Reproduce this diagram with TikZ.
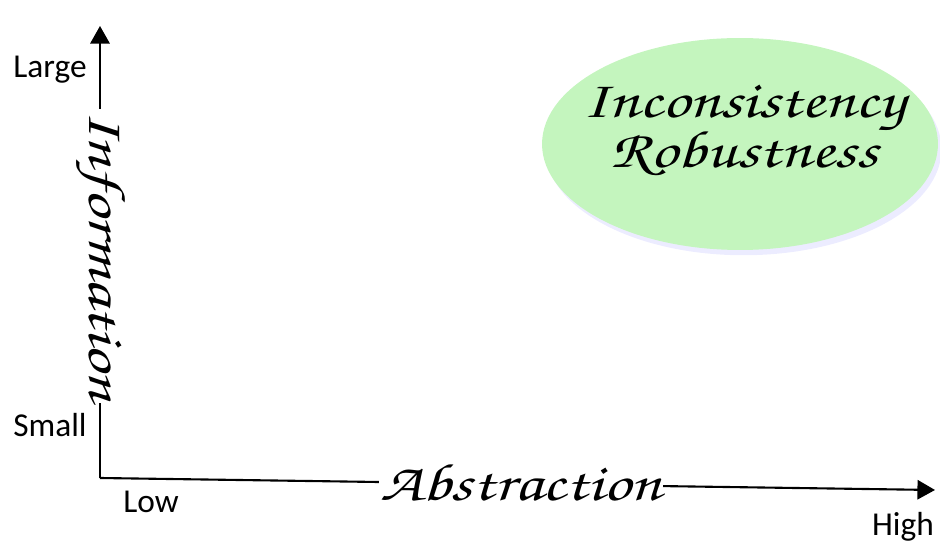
\documentclass[tikz,border=0pt]{standalone}
\usepackage[T1]{fontenc}
\usepackage{fontspec}
\newfontfamily\labelfont{Carlito}
\newcommand\handfont{\fontencoding{T1}\fontfamily{pzc}\fontseries{mb}\fontshape{it}\selectfont}
\newcommand\widehand[1]{\scalebox{1.28}[1]{#1}}
\usetikzlibrary{arrows.meta,shadows,shapes.geometric}
\definecolor{bubblegreen}{RGB}{196,245,190}

\begin{document}
\begin{tikzpicture}[x=0.02cm,y=-0.02cm,>={Triangle[length=10pt,width=11pt]},line width=1.2pt,
    tick/.style={font=\labelfont\fontsize{19}{21}\selectfont},
    axisname/.style={font=\handfont\fontsize{30}{34}\selectfont,fill=white,inner sep=1pt}]
  \useasboundingbox (0,0) rectangle (940,543);
  % --- axes ---
  \coordinate (O)  at (100,478);
  \coordinate (Yt) at (100,26);
  \coordinate (Xt) at (935,490);
  \draw[->] (O) -- (Yt);
  \draw[->] (O) -- (Xt);
  % axis names sit on the lines
  \node[axisname,rotate=-90] (info) at (100,256) {\widehand{Information}};
  \node[axisname] (abstr) at (521,482) {\widehand{Abstraction}};
  % --- end labels ---
  \node[tick] (large) at (50,70)  {Large};
  \node[tick] (small) at (50,425) {Small};
  \node[tick] (low)   at (151,502) {Low};
  \node[tick] (high)  at (903,527) {High};
  % --- the bubble ---
  \node[ellipse,fill=bubblegreen,minimum width=7.92cm,minimum height=4.24cm,
        drop shadow={shadow xshift=2pt,shadow yshift=-3pt,fill=blue!15,opacity=0.5}] (bubble) at (740,144) {};
  \node[align=center,font=\handfont\fontsize{30}{22}\selectfont] (bubtext) at (744,131)
    {\widehand{Inconsistency}\\[-3pt]\widehand{Robustness}};
\end{tikzpicture}
\end{document}
